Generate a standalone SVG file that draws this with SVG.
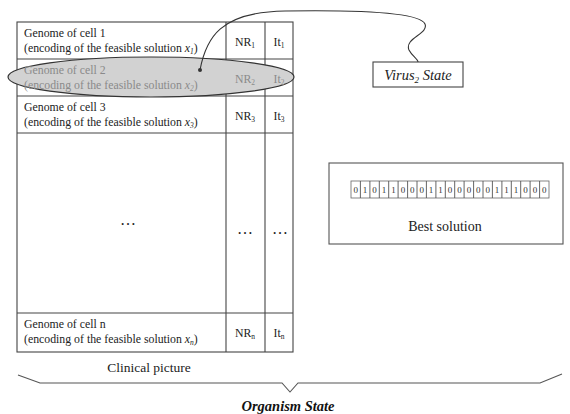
<svg xmlns="http://www.w3.org/2000/svg" width="570" height="414" viewBox="0 0 570 414">
<style>
.t{font-family:"Liberation Serif","Times New Roman",serif;font-size:11.8px;fill:#222}
.g{fill:#8a8a8a}
.c{text-anchor:middle}
.d{font-size:16px;fill:#222}
.ln{stroke:#444;stroke-width:1.1;fill:none}
.bit{fill:#fff;stroke:#666;stroke-width:0.8}
.bt{font-family:"Liberation Serif","Times New Roman",serif;font-size:9px;fill:#333;text-anchor:middle}
.s{font-size:7.5px}
</style>
<rect width="570" height="414" fill="#fff"/>
<g id="table">
<rect x="17" y="22" width="276" height="330" class="ln"/>
<line x1="17" y1="59" x2="293" y2="59" class="ln"/>
<line x1="17" y1="96" x2="293" y2="96" class="ln"/>
<line x1="17" y1="133" x2="293" y2="133" class="ln"/>
<line x1="17" y1="313" x2="293" y2="313" class="ln"/>
<line x1="226" y1="22" x2="226" y2="352" class="ln"/>
<line x1="265" y1="22" x2="265" y2="352" class="ln"/>
</g>
<g id="row1">
<text class="t" x="24" y="37">Genome of cell 1</text>
<text class="t" x="24" y="52">(encoding of the feasible solution <tspan font-style="italic">x</tspan><tspan class="s" font-style="italic" dy="2">1</tspan><tspan dy="-2">)</tspan></text>
<text class="t c" x="245" y="46">NR<tspan class="s" dy="2">1</tspan></text>
<text class="t c" x="279" y="46">It<tspan class="s" dy="2">1</tspan></text>
</g>
<g id="row2">
<ellipse cx="151" cy="77" rx="143" ry="20" fill="#d2d2d2" stroke="#333" stroke-width="1.2"/>
<text class="t g" x="24" y="74">Genome of cell 2</text>
<text class="t g" x="24" y="89">(encoding of the feasible solution <tspan font-style="italic">x</tspan><tspan class="s" font-style="italic" dy="2">2</tspan><tspan dy="-2">)</tspan></text>
<text class="t g c" x="245" y="83">NR<tspan class="s" dy="2">2</tspan></text>
<text class="t g c" x="279" y="83">It<tspan class="s" dy="2">2</tspan></text>
</g>
<g id="row3">
<text class="t" x="24" y="111">Genome of cell 3</text>
<text class="t" x="24" y="126">(encoding of the feasible solution <tspan font-style="italic">x</tspan><tspan class="s" font-style="italic" dy="2">3</tspan><tspan dy="-2">)</tspan></text>
<text class="t c" x="245" y="120">NR<tspan class="s" dy="2">3</tspan></text>
<text class="t c" x="279" y="120">It<tspan class="s" dy="2">3</tspan></text>
</g>
<g id="rowdots">
<text class="t c d" x="128" y="225">…</text>
<text class="t c d" x="245" y="234">…</text>
<text class="t c d" x="280" y="234">…</text>
</g>
<g id="rown">
<text class="t" x="24" y="328">Genome of cell n</text>
<text class="t" x="24" y="343">(encoding of the feasible solution <tspan font-style="italic">x</tspan><tspan class="s" font-style="italic" dy="2">n</tspan><tspan dy="-2">)</tspan></text>
<text class="t c" x="245" y="337">NR<tspan class="s" dy="2">n</tspan></text>
<text class="t c" x="279" y="337">It<tspan class="s" dy="2">n</tspan></text>
</g>
<g id="virus">
<rect x="373" y="62" width="90" height="25" fill="#fff" stroke="#444" stroke-width="1.1"/>
<text x="418" y="80" text-anchor="middle" font-family="'Liberation Serif','Times New Roman',serif" font-size="14.5" font-style="italic" fill="#222">Virus<tspan font-size="9" dy="3">2</tspan><tspan dy="-3"> State</tspan></text>
</g>
<g id="best">
<rect x="329" y="163" width="234" height="81" fill="#fff" stroke="#555" stroke-width="1.1"/>
<g id="bits">
<rect class="bit" x="351" y="181" width="198" height="17"/>
<g stroke="#555" stroke-width="0.9">
<line x1="360.4" y1="181" x2="360.4" y2="198"/><line x1="369.9" y1="181" x2="369.9" y2="198"/><line x1="379.3" y1="181" x2="379.3" y2="198"/><line x1="388.7" y1="181" x2="388.7" y2="198"/><line x1="398.1" y1="181" x2="398.1" y2="198"/><line x1="407.6" y1="181" x2="407.6" y2="198"/><line x1="417" y1="181" x2="417" y2="198"/><line x1="426.4" y1="181" x2="426.4" y2="198"/><line x1="435.9" y1="181" x2="435.9" y2="198"/><line x1="445.3" y1="181" x2="445.3" y2="198"/><line x1="454.7" y1="181" x2="454.7" y2="198"/><line x1="464.1" y1="181" x2="464.1" y2="198"/><line x1="473.6" y1="181" x2="473.6" y2="198"/><line x1="483" y1="181" x2="483" y2="198"/><line x1="492.4" y1="181" x2="492.4" y2="198"/><line x1="501.9" y1="181" x2="501.9" y2="198"/><line x1="511.3" y1="181" x2="511.3" y2="198"/><line x1="520.7" y1="181" x2="520.7" y2="198"/><line x1="530.1" y1="181" x2="530.1" y2="198"/><line x1="539.6" y1="181" x2="539.6" y2="198"/>
</g>
<text class="bt" y="193"><tspan x="355.7">0</tspan><tspan x="365.1">1</tspan><tspan x="374.6">0</tspan><tspan x="384">1</tspan><tspan x="393.4">1</tspan><tspan x="402.9">0</tspan><tspan x="412.3">0</tspan><tspan x="421.7">0</tspan><tspan x="431.1">1</tspan><tspan x="440.6">1</tspan><tspan x="450">0</tspan><tspan x="459.4">0</tspan><tspan x="468.9">0</tspan><tspan x="478.3">0</tspan><tspan x="487.7">0</tspan><tspan x="497.1">1</tspan><tspan x="506.6">1</tspan><tspan x="516">1</tspan><tspan x="525.4">0</tspan><tspan x="534.9">0</tspan><tspan x="544.3">0</tspan></text>
</g>
<text x="445" y="231" text-anchor="middle" font-family="'Liberation Serif','Times New Roman',serif" font-size="14" fill="#222">Best solution</text>
</g>
<g id="connectors">
<path d="M200,70 C206,38 220,12 285,11 C350,10 420,12 425,24 C429,34 404,38 409,50 C412,56 418,59 418,62" fill="none" stroke="#333" stroke-width="1.1"/>
<circle cx="200" cy="70" r="2" fill="#333"/>
<path d="M18,375 L40,383 L282,383 L290,392 L298,383 L540,383 L562,374" fill="none" stroke="#555" stroke-width="1.1"/>
</g>
<g id="labels">
<text x="149" y="372" text-anchor="middle" font-family="'Liberation Serif','Times New Roman',serif" font-size="13.5" fill="#222">Clinical picture</text>
<text x="288" y="411" text-anchor="middle" font-family="'Liberation Serif','Times New Roman',serif" font-size="14.5" font-weight="bold" font-style="italic" fill="#111">Organism State</text>
</g>
</svg>
